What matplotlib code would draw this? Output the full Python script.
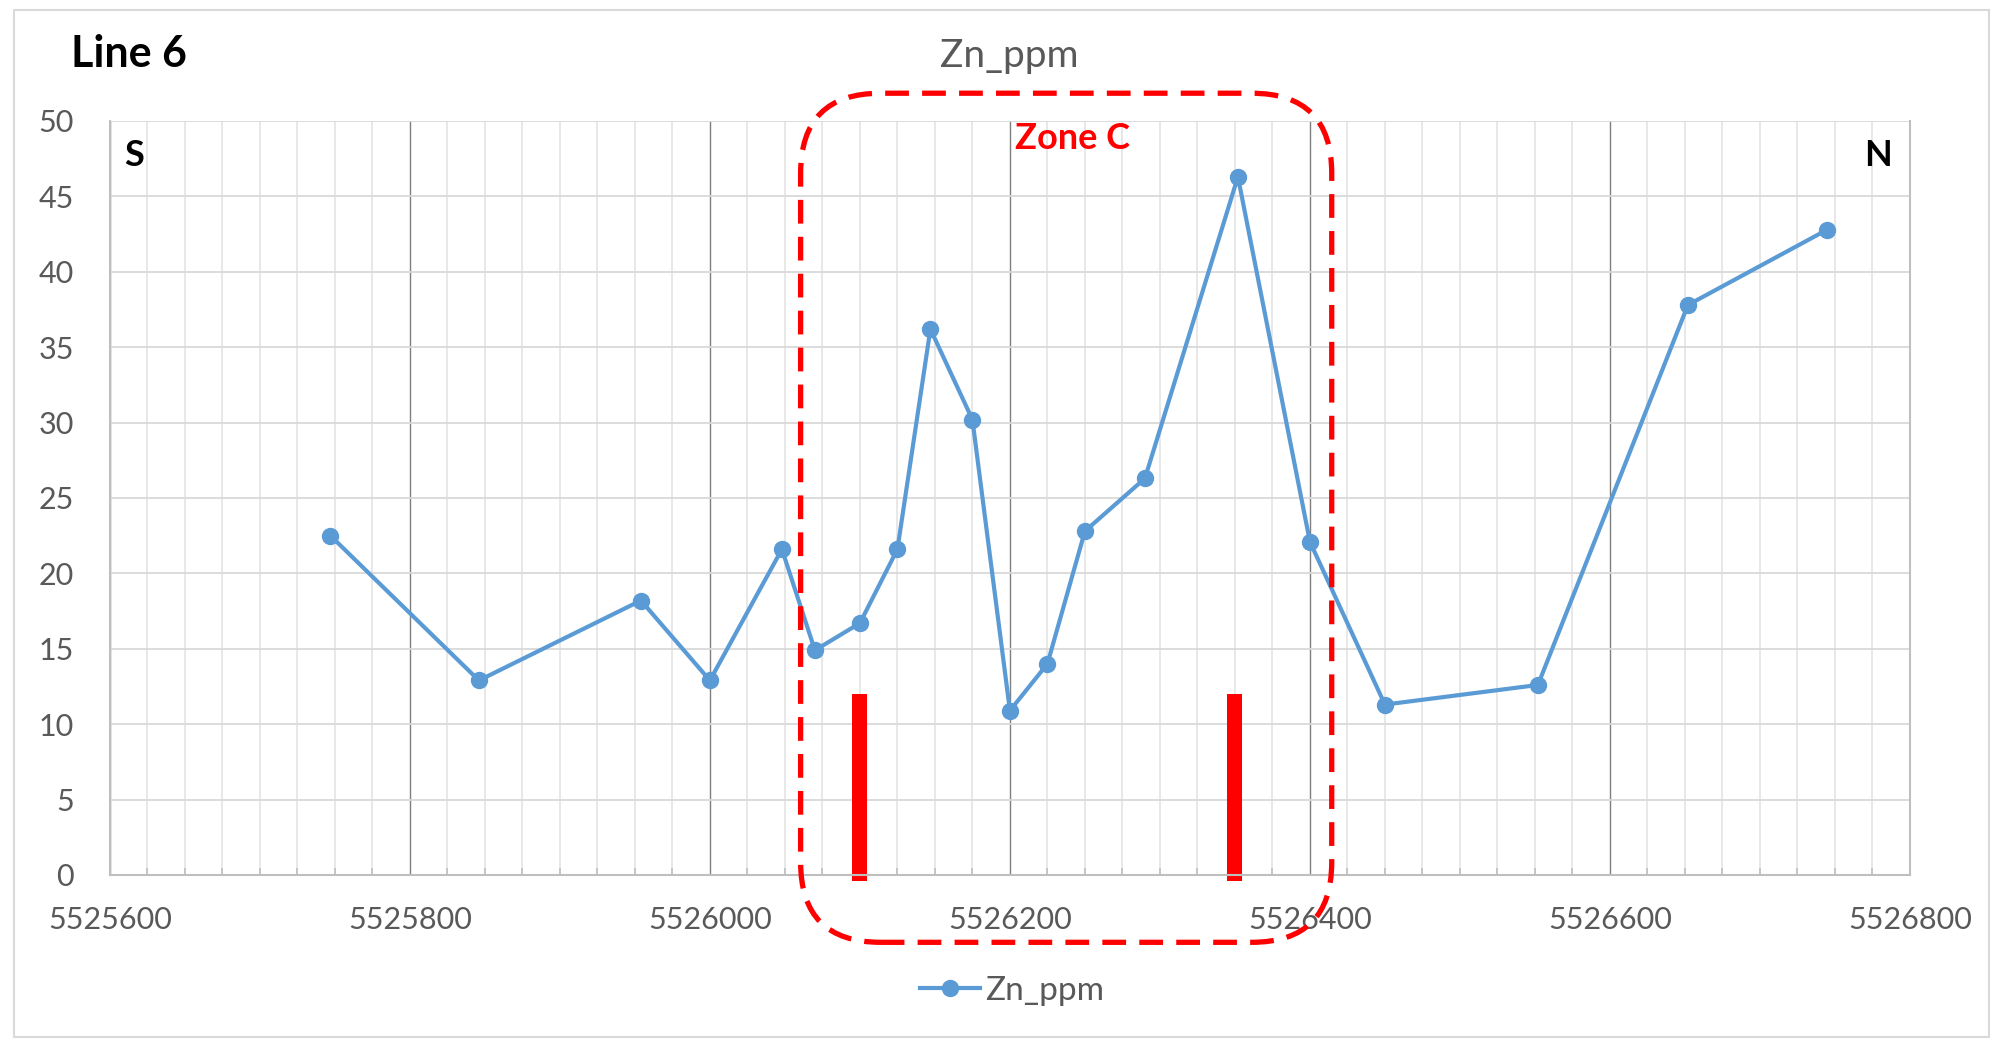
import matplotlib.pyplot as plt
from matplotlib.patches import FancyBboxPatch, Rectangle
from matplotlib.ticker import MultipleLocator

# Zn_ppm soil samples along Line 6 (northing vs ppm)
northing = [5525747, 5525846, 5525954, 5526000, 5526048, 5526070, 5526100,
            5526125, 5526147, 5526175, 5526200, 5526225, 5526250, 5526290,
            5526352, 5526400, 5526450, 5526552, 5526652, 5526745]
zn_ppm = [22.5, 12.9, 18.2, 12.9, 21.6, 14.9, 16.7, 21.6, 36.2, 30.2,
          10.9, 14.0, 22.8, 26.3, 46.3, 22.1, 11.3, 12.6, 37.8, 42.8]

# red markers inside Zone C
marker_x = [5526100, 5526350]
marker_top = [12, 12]
marker_base = -0.4

plt.rcParams['font.family'] = ['Lato', 'DejaVu Sans']
grey_text = '#595959'

fig = plt.figure(figsize=(20.02, 10.44), dpi=100)
ax = fig.add_axes([0.0549, 0.1619, 0.8991, 0.7222])

ax.set_xlim(5525600, 5526800)
ax.set_ylim(0, 50)
ax.xaxis.set_major_locator(MultipleLocator(200))
ax.xaxis.set_minor_locator(MultipleLocator(25))
ax.yaxis.set_major_locator(MultipleLocator(5))

ax.grid(True, which='major', axis='y', color='#d9d9d9', linewidth=1.3, zorder=0)
ax.grid(True, which='major', axis='x', color='#7f7f7f', linewidth=1.0, zorder=0)
ax.grid(True, which='minor', axis='x', color='#e2e2e2', linewidth=1.1, zorder=0)
ax.set_axisbelow(True)

for side in ['left', 'bottom', 'right']:
    ax.spines[side].set_color('#bfbfbf')
    ax.spines[side].set_linewidth(1.5)
ax.spines['top'].set_visible(False)

ax.tick_params(axis='y', length=0, pad=26, labelsize=22, labelcolor=grey_text)
ax.tick_params(axis='x', which='major', length=0, pad=22, labelsize=22, labelcolor=grey_text)
ax.tick_params(axis='x', which='minor', direction='in', length=5, color='#bfbfbf', width=1.2)
ax.ticklabel_format(axis='x', useOffset=False, style='plain')

ax.plot(northing, zn_ppm, color='#5b9bd5', linewidth=3.0, marker='o',
        markersize=11.5, label='Zn_ppm', zorder=3)

heights = [t - marker_base for t in marker_top]
ax.bar(marker_x, heights, bottom=marker_base, width=10, color='#ff0000',
       zorder=2, clip_on=False)

ax.text(0.0133, 0.954, 'S', transform=ax.transAxes, fontsize=26,
        fontweight='bold', ha='center', va='center')
ax.text(0.982, 0.954, 'N', transform=ax.transAxes, fontsize=26,
        fontweight='bold', ha='center', va='center')
ax.text(0.5347, 0.977, 'Zone C', transform=ax.transAxes, fontsize=26,
        fontweight='bold', color='#ff0000', ha='center', va='center')

fig.text(0.0357, 0.9487, 'Line 6', fontsize=31, fontweight='bold',
         ha='left', va='center')
fig.text(0.5039, 0.946, 'Zn_ppm', fontsize=28, color=grey_text,
         ha='center', va='center')

leg = ax.legend(loc='center', bbox_to_anchor=(0.5055, 0.0508),
                bbox_transform=fig.transFigure, frameon=False, fontsize=24,
                handlelength=1.8, handletextpad=0.15)
for t in leg.get_texts():
    t.set_color(grey_text)

# dashed rounded box around Zone C
aspect = 2002 / 1044
zone = FancyBboxPatch((0.3999, 0.0974), 0.2653, 0.8133,
                      boxstyle='round,pad=0,rounding_size=0.04',
                      mutation_aspect=aspect, transform=fig.transFigure,
                      fill=False, edgecolor='#ff0000', linewidth=3.8,
                      linestyle=(0, (4.5, 2.5)), zorder=10)
fig.patches.append(zone)

# chart border
border = Rectangle((0.007, 0.0067), 0.9865, 0.9837, transform=fig.transFigure,
                   fill=False, edgecolor='#d9d9d9', linewidth=1.5)
fig.patches.append(border)

fig.savefig('out.png', dpi=100)
